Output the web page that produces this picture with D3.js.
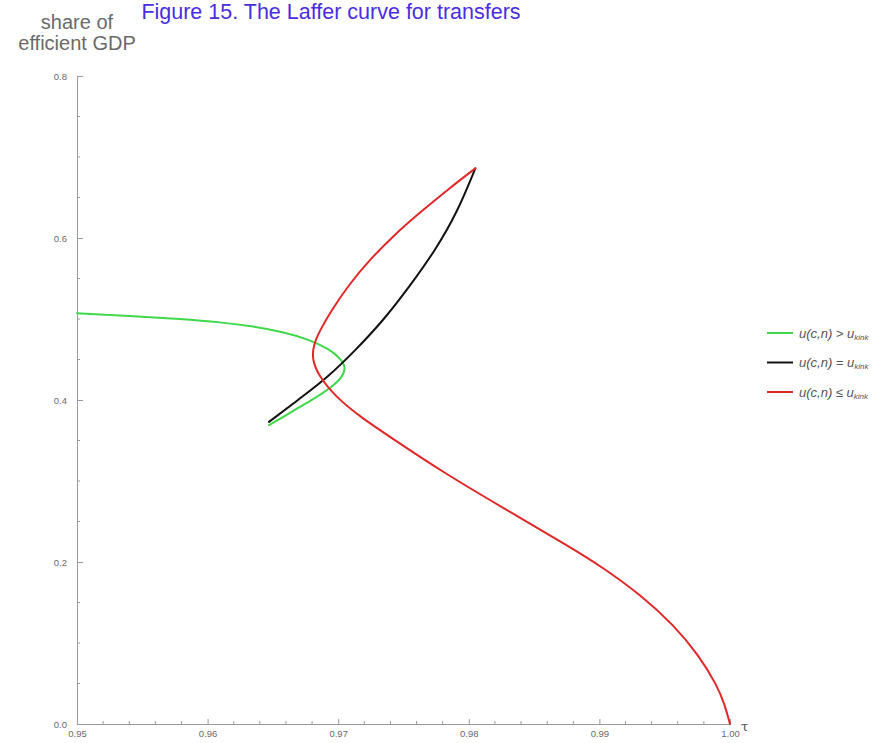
<!DOCTYPE html>
<html>
<head>
<meta charset="utf-8">
<script src="https://cdn.jsdelivr.net/npm/d3@7"></script>
<style>
  html, body { margin: 0; padding: 0; background: #fff; }
  svg { display: block; font-family: "Liberation Sans", Arial, sans-serif; }
</style>
</head>
<body>
<svg id="chart" width="889" height="743"></svg>
<script>
// Laffer curve for transfers: revenue share of efficient GDP against the tax rate τ

const xTicks = [0.95, 0.96, 0.97, 0.98, 0.99, 1.00];
const yTicks = [0.0, 0.2, 0.4, 0.6, 0.8];

// branch where u(c,n) > u_kink
const greenTau   = [0.9500, 0.9540, 0.9580, 0.9610, 0.9635, 0.9658, 0.9677, 0.9693, 0.9702, 0.9706, 0.9703, 0.9695, 0.9683, 0.9669, 0.9657, 0.9647];
const greenShare = [0.507, 0.504, 0.500, 0.496, 0.491, 0.484, 0.475, 0.463, 0.451, 0.440, 0.428, 0.416, 0.403, 0.390, 0.378, 0.369];

// branch where u(c,n) = u_kink
const blackTau   = [0.9647, 0.9670, 0.9692, 0.9713, 0.9735, 0.9755, 0.9774, 0.9791, 0.9805];
const blackShare = [0.373, 0.401, 0.428, 0.461, 0.499, 0.541, 0.584, 0.631, 0.686];

// branch where u(c,n) ≤ u_kink
const redTau   = [0.9805, 0.9784, 0.9763, 0.9743, 0.9724, 0.9708, 0.9695, 0.9686, 0.9681, 0.9680, 0.9685, 0.9698, 0.9717, 0.9741, 0.9781, 0.9825, 0.9877, 0.9902, 0.9932, 0.9957, 0.9976, 0.9990, 0.9996, 1.0000];
const redShare = [0.686, 0.660, 0.632, 0.604, 0.573, 0.542, 0.511, 0.486, 0.468, 0.450, 0.430, 0.404, 0.379, 0.353, 0.310, 0.268, 0.219, 0.194, 0.159, 0.122, 0.085, 0.048, 0.024, 0.000];

const seriesNames = ["u(c,n) > ", "u(c,n) = ", "u(c,n) ≤ "];
const seriesColors = ["#3fd84a", "#111111", "#e02828"];

const svg = d3.select("#chart");
const axisColor = "#9a9a9a";
const textColor = "#6a6a6a";

const x = d3.scaleLinear().domain([0.95, 1.00]).range([77, 730]);
const y = d3.scaleLinear().domain([0, 0.8]).range([724, 76]);

// title
svg.append("text")
  .attr("x", 331).attr("y", 19)
  .attr("text-anchor", "middle")
  .attr("font-size", 21.5)
  .attr("fill", "#4a2de0")
  .text("Figure 15. The Laffer curve for transfers");

// y axis label
const yl = svg.append("text")
  .attr("text-anchor", "middle")
  .attr("font-size", 20)
  .attr("fill", textColor);
yl.append("tspan").attr("x", 77).attr("y", 29).text("share of");
yl.append("tspan").attr("x", 77).attr("y", 50).text("efficient GDP");

// axes
const xAxis = d3.axisBottom(x)
  .tickValues(xTicks)
  .tickFormat(d3.format(".2f"))
  .tickSizeInner(-5).tickSizeOuter(0).tickPadding(11);
const gx = svg.append("g").attr("transform", `translate(0,${y(0)})`).call(xAxis);

const xMinor = d3.range(0.95, 1.0001, 0.002).filter(v => !xTicks.some(t => Math.abs(t - v) < 1e-6));
gx.selectAll(".minor").data(xMinor).join("line")
  .attr("class", "minor")
  .attr("x1", d => x(d)).attr("x2", d => x(d))
  .attr("y1", 0).attr("y2", -3);

const yAxis = d3.axisLeft(y)
  .tickValues(yTicks)
  .tickFormat(d3.format(".1f"))
  .tickSizeInner(-6).tickSizeOuter(0).tickPadding(10);
const gy = svg.append("g").attr("transform", `translate(${x(0.95)},0)`).call(yAxis);

const yMinor = d3.range(0, 0.8001, 0.05).filter(v => !yTicks.some(t => Math.abs(t - v) < 1e-6));
gy.selectAll(".minor").data(yMinor).join("line")
  .attr("class", "minor")
  .attr("x1", 0).attr("x2", 3)
  .attr("y1", d => y(d)).attr("y2", d => y(d));

[gx, gy].forEach(g => {
  g.select(".domain").attr("stroke", axisColor).attr("stroke-width", 1);
  g.selectAll("line").attr("stroke", axisColor);
  g.selectAll("text").attr("fill", textColor).attr("font-size", 9.5)
    .attr("font-family", "'Liberation Sans', Arial, sans-serif");
});
gx.selectAll(".tick text").attr("dy", "0.2em");

// τ axis label
svg.append("text")
  .attr("x", 741).attr("y", 731)
  .attr("font-size", 13)
  .attr("fill", "#555")
  .attr("font-family", "'DejaVu Serif', serif")
  .text("τ");

// curves
const line = d3.line()
  .x(d => x(d[0])).y(d => y(d[1]))
  .curve(d3.curveBasis);

const series = [
  d3.zip(greenTau, greenShare),
  d3.zip(blackTau, blackShare),
  d3.zip(redTau, redShare)
];

svg.append("g").selectAll("path").data(series).join("path")
  .attr("d", line)
  .attr("fill", "none")
  .attr("stroke", (d, i) => seriesColors[i])
  .attr("stroke-width", 2)
  .attr("stroke-linejoin", "round")
  .attr("stroke-linecap", "round");

// legend
const lg = svg.append("g");
const rows = lg.selectAll("g").data(seriesNames).join("g")
  .attr("transform", (d, i) => `translate(767,${333 + i * 29.5})`);
rows.append("line")
  .attr("x1", 0).attr("x2", 26)
  .attr("stroke", (d, i) => seriesColors[i])
  .attr("stroke-width", 2);
const lt = rows.append("text")
  .attr("x", 32).attr("y", 4.5)
  .attr("font-size", 13)
  .attr("font-style", "italic")
  .attr("fill", "#555");
lt.append("tspan").text(d => d);
lt.append("tspan").text("u");
lt.append("tspan").attr("font-size", 8).attr("dy", 2).text("kink");
</script>
</body>
</html>
